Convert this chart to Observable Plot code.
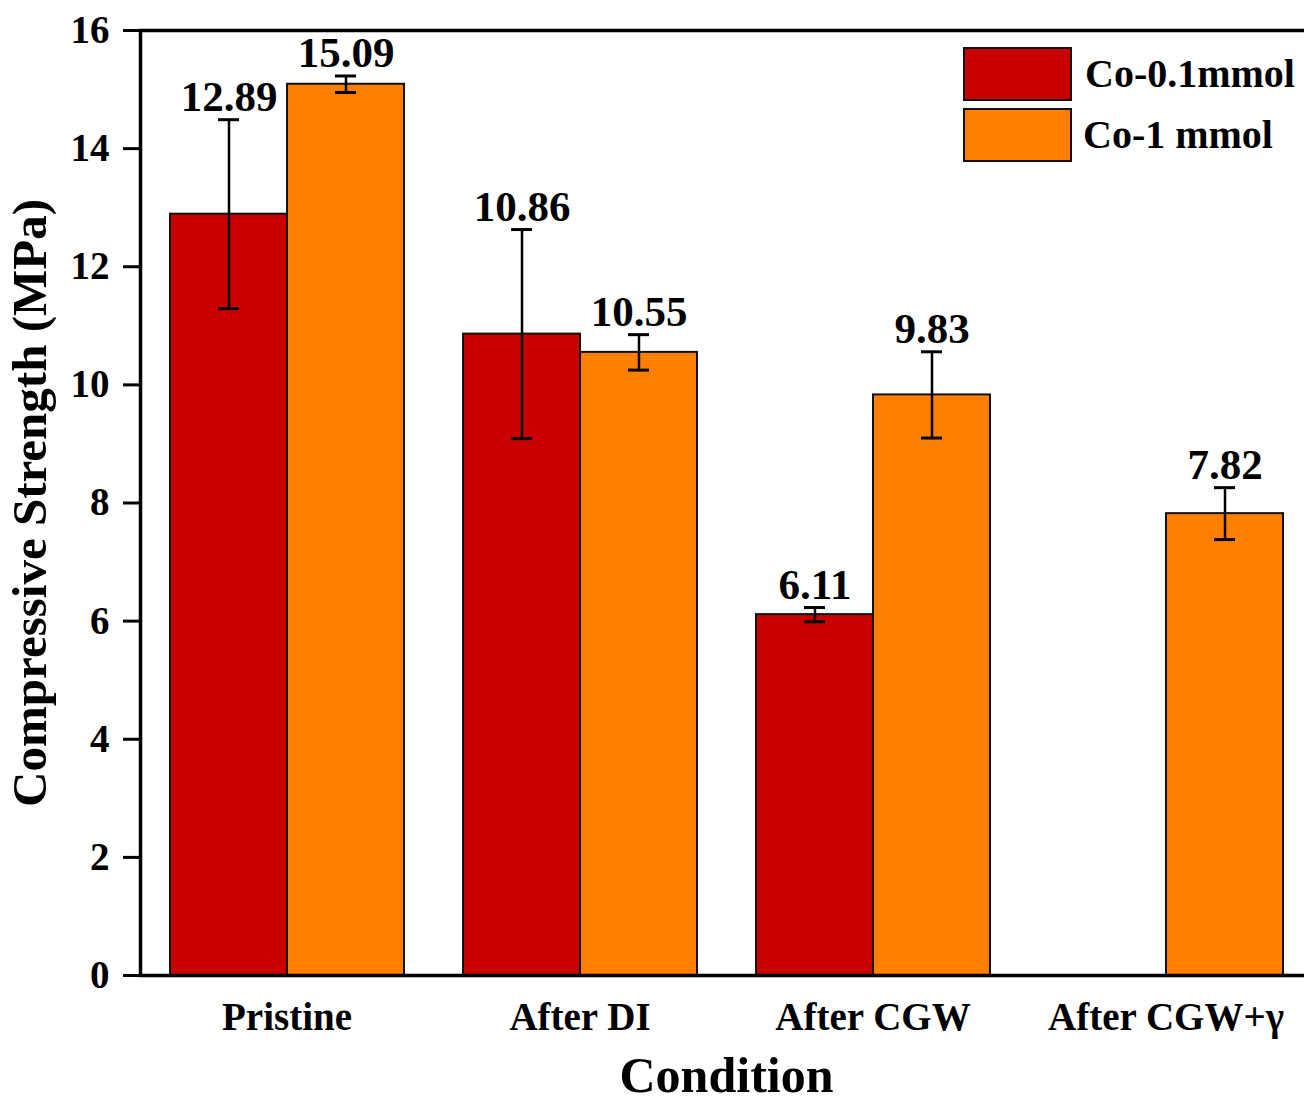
<!DOCTYPE html>
<html>
<head>
<meta charset="utf-8">
<script src="https://cdn.jsdelivr.net/npm/d3@7"></script>
<script src="https://cdn.jsdelivr.net/npm/@observablehq/plot@0.6"></script>
<style>
  html, body { margin: 0; padding: 0; background: white; overflow: hidden; }
  #wrap { position: relative; width: 1304px; height: 1106px; }
  .sw { position: absolute; box-sizing: border-box; border: 2px solid #111; }
  .lt { position: absolute; font-family: "Liberation Serif", "Times New Roman", serif; font-weight: bold; font-size: 40px; color: #000; white-space: nowrap; line-height: 1; }
</style>
</head>
<body>
<div id="wrap"></div>
<script>
const conditions = ["Pristine", "After DI", "After CGW", "After CGW+γ"];
const series = ["Co-0.1mmol", "Co-1 mmol"];
const colors = ["#C80000", "#FF8000"];
const co01Values = [12.89, 10.86, 6.11, null];
const co01Errors = [1.60, 1.77, 0.12, null];
const co1Values = [15.09, 10.55, 9.83, 7.82];
const co1Errors = [0.14, 0.30, 0.73, 0.44];
const yTicks = [0, 2, 4, 6, 8, 10, 12, 14, 16];

const rows = [];
conditions.forEach((c, i) => {
  if (co01Values[i] != null) rows.push({condition: c, series: series[0], value: co01Values[i], err: co01Errors[i]});
  if (co1Values[i] != null) rows.push({condition: c, series: series[1], value: co1Values[i], err: co1Errors[i]});
});

const font = "'Liberation Serif', 'Times New Roman', serif";

const chart = Plot.plot({
  width: 1304,
  height: 1106,
  marginTop: 30,
  marginBottom: 131,
  marginLeft: 140,
  marginRight: -8,
  style: {fontFamily: font, fontWeight: "bold", fontSize: "39px", color: "black", background: "white"},
  fx: {domain: conditions, paddingInner: 0, paddingOuter: 0, label: "Condition"},
  x: {domain: series, paddingInner: 0, paddingOuter: 0.247, axis: null},
  y: {domain: [0, 16]},
  color: {domain: series, range: colors},
  marks: [
    Plot.barY(rows, {fx: "condition", x: "series", y: "value", fill: "series", stroke: "#111", strokeWidth: 2}),
    Plot.ruleX(rows, {fx: "condition", x: "series", y1: d => d.value - d.err, y2: d => d.value + d.err, stroke: "black", strokeWidth: 2.5}),
    Plot.tickY(rows, {fx: "condition", x: "series", y: d => d.value - d.err, insetLeft: 48, insetRight: 48, stroke: "black", strokeWidth: 3}),
    Plot.tickY(rows, {fx: "condition", x: "series", y: d => d.value + d.err, insetLeft: 48, insetRight: 48, stroke: "black", strokeWidth: 3}),
    Plot.text(rows, {fx: "condition", x: "series", y: d => d.value + d.err, text: d => d.value.toFixed(2), lineAnchor: "bottom", dy: -9, fontSize: 43, fontWeight: "bold", fill: "black"}),
    Plot.frame({facet: "super", stroke: "black", strokeWidth: 3.5}),
    Plot.axisY({ticks: yTicks, tickSize: 17, tickPadding: 14, strokeWidth: 3, fontSize: 39, label: "Compressive Strength (MPa)", labelAnchor: "center", labelArrow: "none", labelOffset: 129}),
    Plot.axisFx({anchor: "bottom", tickSize: 0, tickPadding: 27, fontSize: 39, label: "Condition", labelAnchor: "center", labelArrow: "none", labelOffset: 116})
  ]
});

const wrap = document.getElementById("wrap");
wrap.appendChild(chart);

const yl = chart.querySelector('[aria-label="y-axis label"]');
if (yl) yl.setAttribute("font-size", 49);
const xl = chart.querySelector('[aria-label="fx-axis label"]');
if (xl) xl.setAttribute("font-size", 50);

// legend
const legendItems = [
  {label: series[0], color: colors[0], top: 47, h: 54, textLeft: 1085},
  {label: series[1], color: colors[1], top: 108, h: 54, textLeft: 1083}
];
legendItems.forEach(item => {
  const sw = document.createElement("div");
  sw.className = "sw";
  Object.assign(sw.style, {left: "963px", top: item.top + "px", width: "109px", height: item.h + "px", background: item.color});
  wrap.appendChild(sw);
  const t = document.createElement("div");
  t.className = "lt";
  t.textContent = item.label;
  Object.assign(t.style, {left: item.textLeft + "px", top: (item.top + item.h / 2 - 20) + "px"});
  wrap.appendChild(t);
});
</script>
</body>
</html>
